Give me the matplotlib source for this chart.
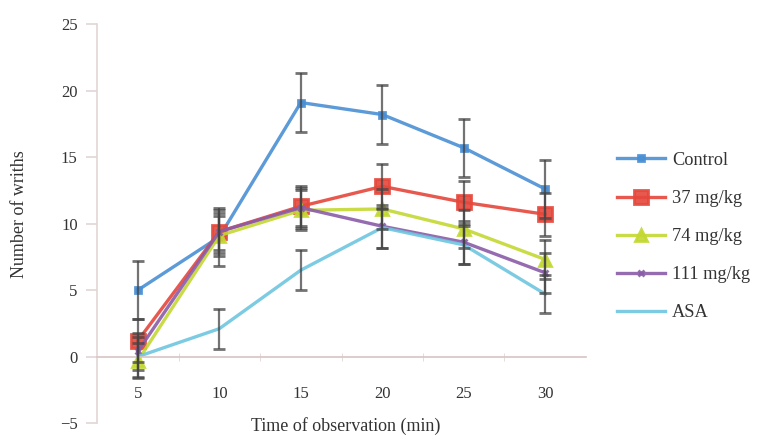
import matplotlib.pyplot as plt

plt.rcParams['font.family'] = ['Liberation Serif', 'DejaVu Serif']

times = ['5', '10', '15', '20', '25', '30']
control = [5.0, 9.0, 19.1, 18.2, 15.7, 12.6]
control_err = [2.2, 2.2, 2.2, 2.2, 2.2, 2.2]
mg37 = [1.2, 9.4, 11.3, 12.8, 11.6, 10.7]
mg37_err = [1.6, 1.6, 1.5, 1.7, 1.6, 1.6]
mg74 = [-0.3, 9.1, 11.0, 11.1, 9.6, 7.3]
mg74_err = [1.3, 1.5, 1.5, 1.5, 1.4, 1.5]
mg111 = [0.4, 9.4, 11.2, 9.8, 8.6, 6.3]
mg111_err = [1.4, 1.4, 1.5, 1.6, 1.6, 1.5]
asa = [0.0, 2.1, 6.5, 9.7, 8.4, 4.7]
asa_err = [1.5, 1.5, 1.5, 1.5, 1.4, 1.4]

series = [
    ('Control', control, control_err, '#4a8fd4', 's', 5),
    ('37 mg/kg', mg37, mg37_err, '#e5473b', 's', 10),
    ('74 mg/kg', mg74, mg74_err, '#c3d832', '^', 8),
    ('111 mg/kg', mg111, mg111_err, '#8a5ca8', 'x', 5),
    ('ASA', asa, asa_err, '#6ec6e0', '', 0),
]

fig = plt.figure(figsize=(7.59, 4.38), dpi=100)
ax = fig.add_axes([0.128, 0.034, 0.644, 0.911])

x = list(range(len(times)))
for name, vals, err, col, mk, ms in series:
    ax.errorbar(x, vals, yerr=err, fmt='none', ecolor='#444444', elinewidth=1.6,
                capsize=4, capthick=2, alpha=0.75, zorder=3)
    ax.plot(x, vals, color=col, lw=2.4, marker=mk, ms=ms, mew=2,
            label=name, alpha=0.9, zorder=2)

ax.set_xlim(-0.5, 5.5)
ax.set_ylim(-5, 25)
ax.set_yticks([-5, 0, 5, 10, 15, 20, 25])
ax.set_yticklabels(['\u22125', '0', '5', '10', '15', '20', '25'])

ax.spines['top'].set_visible(False)
ax.spines['right'].set_visible(False)
ax.spines['left'].set_color('#e2d6d6')
ax.spines['left'].set_linewidth(1.2)
ax.spines['bottom'].set_position(('data', 0))
ax.spines['bottom'].set_color('#d9c4c4')
ax.spines['bottom'].set_linewidth(1.2)

ax.set_xticks(x)
ax.set_xticklabels(times)
ax.set_xticks([0.5, 1.5, 2.5, 3.5, 4.5], minor=True)
ax.tick_params(axis='x', which='major', length=0, pad=21, labelsize=12, colors='#333333')
ax.tick_params(axis='x', which='minor', length=6, direction='inout', color='#e2d6d6')
ax.tick_params(axis='y', length=8, width=1.2, color='#e2d6d6', labelsize=12,
               labelcolor='#333333', pad=6)

fig.text(0.026, 0.51, 'Number of wriths', rotation=90, ha='center', va='center',
         fontsize=13, color='#333333')
fig.text(0.455, 0.027, 'Time of observation (min)', ha='center', va='center',
         fontsize=13, color='#333333')

ax.legend(loc='center left', bbox_to_anchor=(0.813, 0.46), bbox_transform=fig.transFigure,
          frameon=False, fontsize=13.2, handlelength=2.6, labelspacing=1.15,
          handletextpad=0.4, borderpad=0, borderaxespad=0, labelcolor='#333333')

fig.savefig('out.png', dpi=100)
